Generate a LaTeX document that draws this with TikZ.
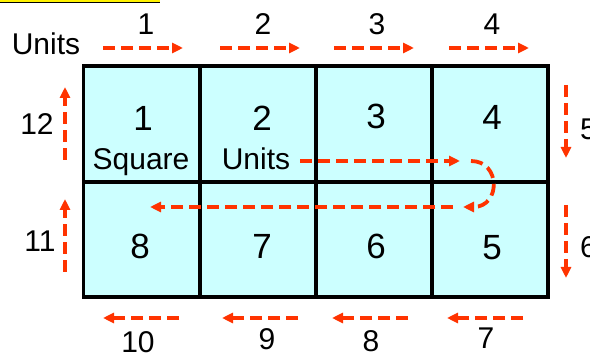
\documentclass[tikz,border=0pt]{standalone}
\usepackage{fontspec}
\setmainfont{Liberation Sans}
\usetikzlibrary{positioning, arrows.meta}
\definecolor{cellcyan}{HTML}{CCFFFF}
\definecolor{walkred}{HTML}{FF3300}

\begin{document}
\begin{tikzpicture}[x=1pt, y=-1pt,
    cell/.style={draw, line width=3.8pt, fill=cellcyan, minimum width=116pt, minimum height=115.5pt, inner sep=0pt},
    num/.style={font=\fontsize{35}{38}\selectfont, inner sep=0pt, anchor=base},
    word/.style={font=\fontsize{30}{32}\selectfont, inner sep=0pt, anchor=base},
    count/.style={font=\fontsize{30}{32}\selectfont, inner sep=0pt, anchor=base},
    walk/.style={walkred, line width=3.8pt, dash pattern=on 12pt off 6pt, -{Triangle[length=11pt, width=10pt]}}]
    \useasboundingbox (0,0) rectangle (590,358);

    % mark at the top
    \fill[yellow] (0,0) rectangle (160,2.5);
    \draw[line width=1pt] (0,3) -- (160,3);

    % the eight squares
    \node[cell] (sq1) at (141.5,124) {};
    \node[cell] (sq2) at (258,124) {};
    \node[cell] (sq3) at (374,124) {};
    \node[cell] (sq4) at (490,124) {};
    \node[cell] (sq8) at (141.5,239.5) {};
    \node[cell] (sq7) at (258,239.5) {};
    \node[cell] (sq6) at (374,239.5) {};
    \node[cell] (sq5) at (490,239.5) {};

    \node[num] (n1) at (143,131) {1};
    \node[num] (n2) at (262,131) {2};
    \node[num] (n3) at (376,129) {3};
    \node[num] (n4) at (492,130) {4};
    \node[num] (n8) at (140,259) {8};
    \node[num] (n7) at (262,259) {7};
    \node[num] (n6) at (376,259) {6};
    \node[num] (n5) at (492,260) {5};
    \node[word] (square) at (141,170) {Square};
    \node[word] (inunits) at (256,170) {Units};
    \node[word] (units) at (46,55) {Units};

    % counting round the edge
    \foreach \k/\x in {1/103, 2/220, 3/334, 4/449} {
        \coordinate (top\k a) at (\x,48);
        \coordinate (top\k b) at (\x+80,48);
        \draw[walk] (top\k a) -- (top\k b);
        \node[count] (ctop\k) at (\x+43,35) {\k};
    }
    \foreach \k/\y/\b in {5/85/140, 6/205/258} {
        \coordinate (rt\k a) at (566,\y);
        \coordinate (rt\k b) at (566,\y+73);
        \draw[walk] (rt\k a) -- (rt\k b);
        \node[count, anchor=base west] (crt\k) at (580,\b) {\k};
    }
    \foreach \k/\x/\c/\b in {7/447/486/349, 8/332/371/352, 9/222/267/350, 10/103/138/353} {
        \coordinate (bot\k a) at (\x+76,318);
        \coordinate (bot\k b) at (\x,318);
        \draw[walk] (bot\k a) -- (bot\k b);
        \node[count] (cbot\k) at (\c,\b) {\k};
    }
    \foreach \k/\y/\c/\b in {11/272/40/252, 12/160/37/135} {
        \coordinate (lf\k a) at (65,\y);
        \coordinate (lf\k b) at (65,\y-73);
        \draw[walk] (lf\k a) -- (lf\k b);
        \node[count] (clf\k) at (\c,\b) {\k};
    }

    % the turn through the squares
    \coordinate (go) at (300,161);
    \coordinate (goend) at (460,161);
    \coordinate (turn) at (471,161);
    \coordinate (turnend) at (463,207);
    \coordinate (back) at (453,207);
    \coordinate (backend) at (150,207);
    \draw[walk] (go) -- (goend);
    \draw[walk] (turn) .. controls (501,161) and (501,207) .. (turnend);
    \draw[walk] (back) -- (backend);
\end{tikzpicture}
\end{document}
